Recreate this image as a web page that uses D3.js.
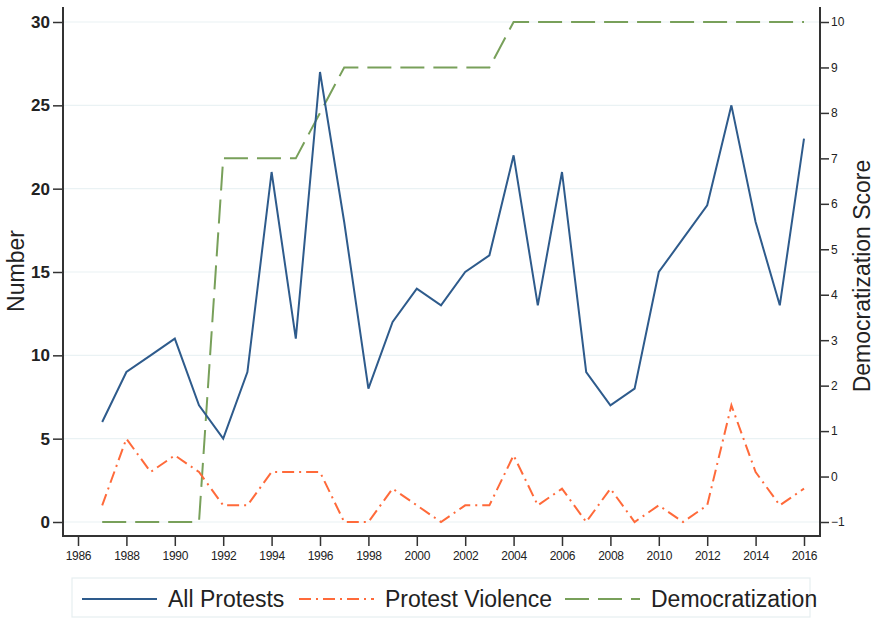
<!DOCTYPE html>
<html><head><meta charset="utf-8">
<script src="https://cdn.jsdelivr.net/npm/d3@7/dist/d3.min.js"></script>
<style>body{margin:0;background:#fff}svg{display:block;font-family:Arial,"Liberation Sans",sans-serif}</style>
</head><body><svg id="c" width="876" height="619"></svg>
<script>
const years = d3.range(1987, 2017);
const allProtests = [6,9,10,11,7,5,9,21,11,27,18,8,12,14,13,15,16,22,13,21,9,7,8,15,17,19,25,18,13,23];
const protestViolence = [1,5,3,4,3,1,1,3,3,3,0,0,2,1,0,1,1,4,1,2,0,2,0,1,0,1,7,3,1,2];
const democratization = [-1,-1,-1,-1,-1,7,7,7,7,8,9,9,9,9,9,9,9,10,10,10,10,10,10,10,10,10,10,10,10,10];
const xTicks = d3.range(1986, 2017, 2);
const yLeftTicks = [0,5,10,15,20,25,30];
const yRightTicks = d3.range(-1, 11);
const legendLabels = ["All Protests","Protest Violence","Democratization"];
const colors = ["#2e5b8c","#ff6a3a","#78a05a"];

const svg = d3.select("#c");
const x = d3.scaleLinear().domain([1986, 2016]).range([78, 804]);
const yL = d3.scaleLinear().domain([0, 30]).range([522, 22]);
const yR = d3.scaleLinear().domain([-1, 10]).range([522, 22]);
const axL = 63, axR = 820, axB = 536, axT = 7;

// gridlines
svg.append("g").selectAll("line").data(yLeftTicks).join("line")
  .attr("x1", axL).attr("x2", axR).attr("y1", d => yL(d)).attr("y2", d => yL(d))
  .attr("stroke", "#eaf2f4").attr("stroke-width", 1.2);

// left axis
const gL = svg.append("g").attr("transform", `translate(${axL},0)`)
  .call(d3.axisLeft(yL).tickValues(yLeftTicks).tickSize(10).tickPadding(3));
gL.select(".domain").remove();
gL.selectAll("line").attr("stroke", "#333").attr("stroke-width", 1.5);
gL.selectAll("text").attr("font-size", 17).attr("fill", "#222").attr("font-weight", "bold");

// right axis
const gR = svg.append("g").attr("transform", `translate(${axR},0)`)
  .call(d3.axisRight(yR).tickValues(yRightTicks).tickSize(9).tickPadding(2).tickFormat(d3.format("d")));
gR.select(".domain").remove();
gR.selectAll("line").attr("stroke", "#333").attr("stroke-width", 1.5);
gR.selectAll("text").attr("font-size", 12).attr("fill", "#222");

// bottom axis
const gB = svg.append("g").attr("transform", `translate(0,${axB})`)
  .call(d3.axisBottom(x).tickValues(xTicks).tickSize(10).tickPadding(5).tickFormat(d3.format("d")));
gB.select(".domain").remove();
gB.selectAll("line").attr("stroke", "#333").attr("stroke-width", 1.5);
gB.selectAll("text").attr("font-size", 12).attr("fill", "#222").attr("letter-spacing", "-0.3px");

// frame lines
svg.append("path").attr("d", `M${axL},${axT}V${axB}H${axR}V${axT}`)
  .attr("fill", "none").attr("stroke", "#333").attr("stroke-width", 2);

// series
const lineL = d3.line().x((d, i) => x(years[i])).y(d => yL(d));
const lineR = d3.line().x((d, i) => x(years[i])).y(d => yR(d));
svg.append("path").datum(democratization).attr("d", lineR).attr("fill", "none")
  .attr("stroke", colors[2]).attr("stroke-width", 2).attr("stroke-dasharray", "24,9");
svg.append("path").datum(protestViolence).attr("d", lineL).attr("fill", "none")
  .attr("stroke", colors[1]).attr("stroke-width", 2).attr("stroke-dasharray", "12,5,2,5");
svg.append("path").datum(allProtests).attr("d", lineL).attr("fill", "none")
  .attr("stroke", colors[0]).attr("stroke-width", 2);

// axis titles
svg.append("text").attr("transform", "translate(24,271) rotate(-90)").attr("text-anchor", "middle")
  .attr("font-size", 23).attr("fill", "#222").text("Number");
svg.append("text").attr("transform", "translate(870,276) rotate(-90)").attr("text-anchor", "middle")
  .attr("font-size", 23).attr("fill", "#222").text("Democratization Score");

// legend
svg.append("rect").attr("x", 72).attr("y", 578).attr("width", 738).attr("height", 39)
  .attr("fill", "#fff").attr("stroke", "#e6eef0").attr("stroke-width", 1.2);
const legX = [82, 299, 565];
const dashes = [null, "12,5,2,5", "24,9"];
legendLabels.forEach((lab, i) => {
  svg.append("line").attr("x1", legX[i]).attr("x2", legX[i] + 75).attr("y1", 599).attr("y2", 599)
    .attr("stroke", colors[i]).attr("stroke-width", 2).attr("stroke-dasharray", dashes[i]);
  svg.append("text").attr("x", legX[i] + 86).attr("y", 607).attr("font-size", 23).attr("fill", "#222").text(lab);
});
</script></body></html>
